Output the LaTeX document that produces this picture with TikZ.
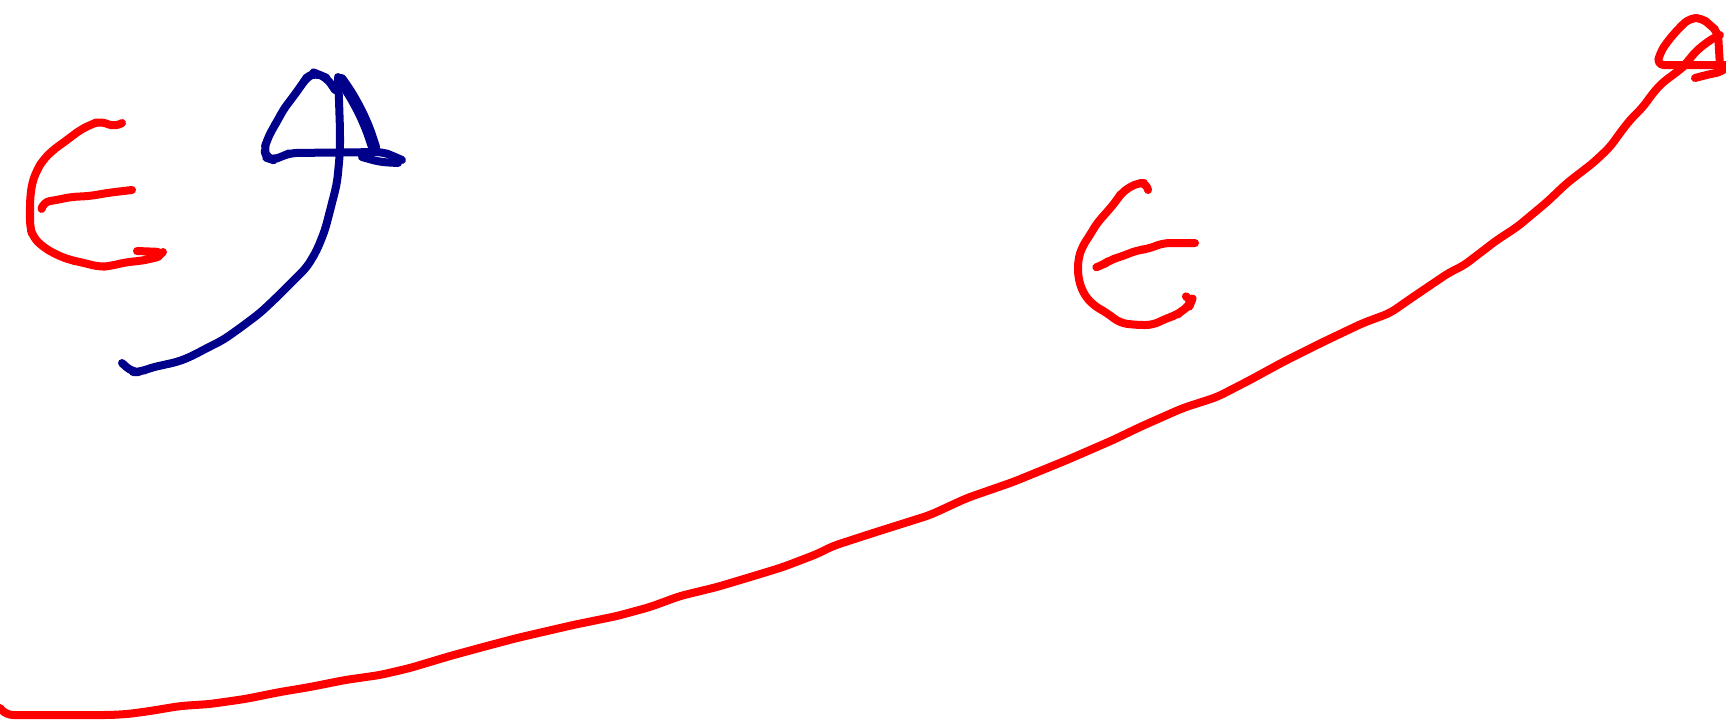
\documentclass[tikz,border=0pt]{standalone}
\usepackage{tikz}

\definecolor{vermelho}{RGB}{255,0,0}
\definecolor{azulescuro}{RGB}{0,0,139}

\begin{document}
\begin{tikzpicture}[x=0.01cm,y=-0.01cm,
  tracovermelho/.style={vermelho,line width=0.08cm,line cap=round,line join=round,rounded corners=2pt},
  tracoazul/.style={azulescuro,line width=0.08cm,line cap=round,line join=round,rounded corners=2pt}]
  \useasboundingbox (0,0) rectangle (1726,726);

  % Letra E da esquerda.
  \draw[tracovermelho] (122,123) -- (115,127) -- (100,121) -- (90,125) -- (80,130) -- (67,140)
    -- (53,150) -- (43,160) -- (37,170) -- (32,183) -- (30,200) -- (30,227) -- (33,237)
    -- (43,247) -- (57,255) -- (70,260) -- (80,262) -- (100,267) -- (110,266) -- (127,262)
    -- (140,261) -- (150,259) -- (158,257) -- (163,252) -- (137,251);
  \draw[tracovermelho] (42,207) -- (43,202) -- (57,200) -- (70,197) -- (90,196) -- (107,193)
    -- (123,191) -- (132,190);

  % Figura azul: cauda, laço e traço horizontal.
  \draw[tracoazul] (122,363) -- (132,372) -- (140,372) -- (150,368) -- (163,365) -- (177,362)
    -- (190,357) -- (207,348) -- (223,340) -- (240,328) -- (260,313) -- (277,297) -- (297,277)
    -- (307,267) -- (317,250) -- (325,230) -- (332,203) -- (337,183) -- (339,163) -- (340,150)
    -- (340,130) -- (339,100) -- (338,77);
  \draw[tracoazul] (335,90) -- (327,78) -- (320,75) -- (315,73) -- (307,77) -- (303,83)
    -- (293,97) -- (283,110) -- (278,120) -- (273,128) -- (267,140) -- (264,150) -- (267,158)
    -- (273,160) -- (283,156) -- (290,153) -- (383,152) -- (393,156) -- (402,160);
  \draw[tracoazul] (362,157) -- (380,162) -- (398,163);
  \draw[tracoazul,line width=0.12cm] (341,80) -- (350,93) -- (360,111) -- (368,129) -- (374,147);

  % Curva principal, da esquerda em baixo até ao canto superior direito.
  \draw[tracovermelho] (0,708) -- (6,715) -- (110,715) -- (128,714) -- (150,711) -- (180,706)
    -- (210,704) -- (245,699) -- (280,692) -- (310,687) -- (345,680) -- (380,675) -- (410,668)
    -- (450,656) -- (483,647) -- (517,638) -- (573,625) -- (617,616) -- (650,607) -- (680,596)
    -- (717,587) -- (757,575) -- (783,567) -- (817,554) -- (833,546) -- (873,533) -- (930,515)
    -- (967,498) -- (1013,482) -- (1067,460) -- (1113,440) -- (1140,427) -- (1167,415)
    -- (1183,408) -- (1217,397) -- (1250,380) -- (1283,362) -- (1323,342) -- (1363,323)
    -- (1390,313) -- (1413,297) -- (1450,272) -- (1463,266) -- (1497,240) -- (1517,227)
    -- (1547,202) -- (1567,183) -- (1593,163) -- (1610,147) -- (1620,133) -- (1630,120)
    -- (1643,107) -- (1653,93) -- (1663,82) -- (1673,75) -- (1683,67);

  % Letra E da direita.
  \draw[tracovermelho] (1148,190) -- (1147,183) -- (1137,183) -- (1122,192) -- (1117,200)
    -- (1107,212) -- (1097,223) -- (1090,235) -- (1082,247) -- (1078,260) -- (1078,277)
    -- (1083,293) -- (1093,305) -- (1107,313) -- (1120,323) -- (1137,325) -- (1153,325)
    -- (1167,318) -- (1177,315) -- (1183,310) -- (1190,305) -- (1192,300) -- (1187,297);
  \draw[tracovermelho] (1097,267) -- (1103,265) -- (1110,260) -- (1120,257) -- (1138,250)
    -- (1148,249) -- (1163,243) -- (1195,243);

  % Pequeno laço no canto superior direito.
  \draw[tracovermelho] (1726,65) -- (1657,65) -- (1660,53) -- (1667,42) -- (1680,27)
    -- (1690,18) -- (1702,18) -- (1710,25) -- (1718,32) -- (1719,50) -- (1720,66);
  \draw[tracovermelho] (1683,67) -- (1697,50) -- (1713,38) -- (1720,35);
  \draw[tracovermelho] (1695,78) -- (1710,74) -- (1722,72) -- (1726,68);
\end{tikzpicture}
\end{document}
